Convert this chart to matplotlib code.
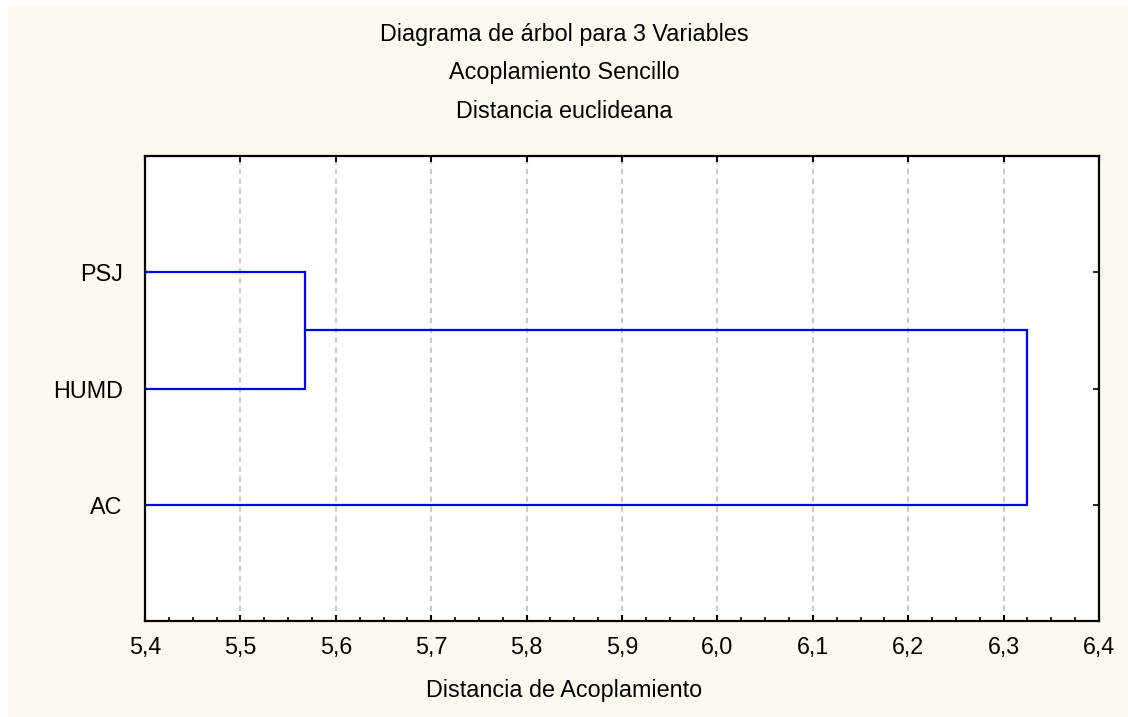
import numpy as np
import matplotlib
matplotlib.use('Agg')
import matplotlib.pyplot as plt
from matplotlib.patches import Rectangle
from matplotlib.ticker import MultipleLocator, FuncFormatter

## Data
labels = ['AC', 'HUMD', 'PSJ']
label_pos = [1, 2, 3]
merge_1 = 5.568   # PSJ + HUMD
merge_2 = 6.325   # (PSJ,HUMD) + AC
x_start = 5.4

plt.rcParams['font.family'] = ['Liberation Sans', 'DejaVu Sans']
plt.rcParams['font.size'] = 16.8

fig = plt.figure(figsize=(11.28, 7.17), dpi=100)
fig.patch.set_facecolor('white')
# cream panel (small white strip top/left as in reference)
fig.patches.append(Rectangle((8 / 1128, -0.01), 1.1, 1.01 - 6 / 717, transform=fig.transFigure,
                             facecolor='#fef9ef', edgecolor='none', zorder=-10))

ax = fig.add_axes([145 / 1128, 1 - 621 / 717, (1099 - 145) / 1128, (621 - 156) / 717])
ax.set_facecolor('white')

blue = '#0000ff'
lw = 1.6
# PSJ and HUMD join
ax.plot([x_start, merge_1, merge_1, x_start], [label_pos[2], label_pos[2], label_pos[1], label_pos[1]],
        color=blue, lw=lw, solid_joinstyle='miter')
# cluster joins AC
mid = (label_pos[1] + label_pos[2]) / 2
ax.plot([merge_1, merge_2, merge_2, x_start], [mid, mid, label_pos[0], label_pos[0]],
        color=blue, lw=lw, solid_joinstyle='miter')

ax.set_xlim(5.4, 6.4)
ax.set_ylim(0, 4)
ax.xaxis.set_major_locator(MultipleLocator(0.1))
ax.xaxis.set_minor_locator(MultipleLocator(0.025))
ax.xaxis.set_major_formatter(FuncFormatter(lambda v, p: ('%.1f' % v).replace('.', ',')))
ax.set_yticks(label_pos)
ax.set_yticklabels(labels)

ax.tick_params(axis='x', which='major', direction='in', length=4, width=1.5,
               top=True, bottom=True, pad=11)
ax.tick_params(axis='x', which='minor', direction='in', length=3, width=1.2,
               top=False, bottom=True)
ax.tick_params(axis='y', which='major', direction='in', length=4, width=1.2,
               left=True, right=True, pad=16)

ax.grid(axis='x', which='major', color='#c4c4c4', linestyle=(0, (3, 2.5)), linewidth=1.3)
ax.set_axisbelow(True)
for s in ax.spines.values():
    s.set_linewidth(1.6)
    s.set_color('black')

# titles centered on figure
fig.text(0.5, 1 - 35 / 717, 'Diagrama de árbol para 3 Variables', ha='center', va='center')
fig.text(0.5, 1 - 73 / 717, 'Acoplamiento Sencillo', ha='center', va='center')
fig.text(0.5, 1 - 111 / 717, 'Distancia euclideana', ha='center', va='center')
fig.text(0.5, 1 - 690 / 717, 'Distancia de Acoplamiento', ha='center', va='center')

fig.savefig('out.png', dpi=100)
